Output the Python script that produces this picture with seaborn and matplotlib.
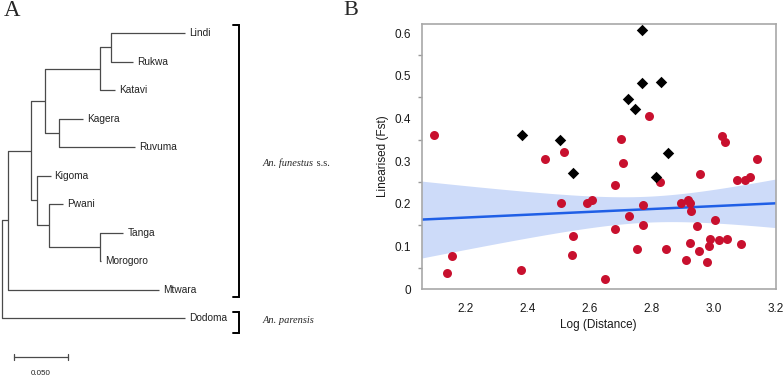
import numpy as np
import matplotlib
matplotlib.use("Agg")
import matplotlib.pyplot as plt
import seaborn as sns

# ---- panel A: neighbour-joining tree (branch lengths) ----
tree_nodes = ["root", "n1", "n2", "n3", "n5", "n6", "Lindi", "Rukwa", "Katavi",
              "n7", "Kagera", "Ruvuma", "n4", "Kigoma", "n8", "Pwani", "n9",
              "Tanga", "Morogoro", "Mtwara", "Dodoma"]
tree_parents = [None, "root", "n1", "n2", "n3", "n5", "n6", "n6", "n5",
                "n3", "n7", "n7", "n2", "n4", "n4", "n8", "n8",
                "n9", "n9", "n1", "root"]
branch_lengths = [0.0, 0.0056, 0.0213, 0.0129, 0.0519, 0.0102, 0.0685, 0.0203, 0.0139,
                  0.0139, 0.0222, 0.0704, 0.0055, 0.0130, 0.0120, 0.0130, 0.0473,
                  0.0213, 0.0009, 0.1407, 0.1704]
scale_bar = 0.050

# ---- panel B: isolation by distance ----
red_x = [2.096, 2.140, 2.155, 2.377, 2.455, 2.506, 2.518, 2.541, 2.544, 2.590,
         2.608, 2.649, 2.682, 2.682, 2.700, 2.706, 2.726, 2.753, 2.770, 2.773,
         2.790, 2.828, 2.845, 2.894, 2.909, 2.918, 2.922, 2.922, 2.927, 2.945,
         2.951, 2.955, 2.977, 2.986, 2.988, 3.003, 3.016, 3.028, 3.035, 3.043,
         3.074, 3.088, 3.101, 3.116, 3.141]
red_y = [0.362, 0.038, 0.077, 0.044, 0.305, 0.201, 0.321, 0.080, 0.125, 0.203,
         0.210, 0.023, 0.243, 0.141, 0.351, 0.296, 0.172, 0.093, 0.150, 0.197,
         0.406, 0.252, 0.093, 0.201, 0.068, 0.209, 0.201, 0.107, 0.184, 0.149,
         0.090, 0.271, 0.064, 0.102, 0.117, 0.162, 0.114, 0.360, 0.344, 0.117,
         0.257, 0.106, 0.255, 0.264, 0.304]
# pairs with An. parensis (Dodoma)
black_x = [2.380, 2.504, 2.544, 2.722, 2.745, 2.769, 2.768, 2.813, 2.829, 2.852]
black_y = [0.362, 0.350, 0.272, 0.446, 0.422, 0.609, 0.484, 0.264, 0.487, 0.320]

x_ticks = [2.2, 2.4, 2.6, 2.8, 3.0, 3.2]
y_ticks = [0, 0.1, 0.2, 0.3, 0.4, 0.5, 0.6]

sns.set_style("white")
plt.rcParams["font.family"] = ["Liberation Sans", "DejaVu Sans"]

W, H = 784, 378
fig = plt.figure(figsize=(W / 100, H / 100), dpi=100)

# ------------------------------------------------------------------ panel A
k = 1076.0           # pixels per branch-length unit
leaf_y0, leaf_dy = 33.0, 28.5
axA = fig.add_axes([0, 0, 340 / W, 1])
axA.set_xlim(-1.7 / k, (340 - 1.7) / k)
axA.set_ylim((H - leaf_y0) / leaf_dy, -leaf_y0 / leaf_dy)
axA.axis("off")

children = {n: [] for n in tree_nodes}
for n, p in zip(tree_nodes, tree_parents):
    if p is not None:
        children[p].append(n)
blen = dict(zip(tree_nodes, branch_lengths))

# leaf order = depth first traversal
leaves = []
def collect(n):
    if not children[n]:
        leaves.append(n)
    for c in children[n]:
        collect(c)
collect("root")

xpos, ypos = {}, {}
def place(n, x0):
    xpos[n] = x0 + blen[n]
    for c in children[n]:
        place(c, xpos[n])
for i, n in enumerate(leaves):
    ypos[n] = i
def place_y(n):
    for c in children[n]:
        place_y(c)
    if children[n]:
        ypos[n] = np.mean([ypos[c] for c in children[n]])
place_y("root")
place("root", 0.0)

tree_col = "#4a4a4a"
for n, p in zip(tree_nodes, tree_parents):
    if p is None:
        continue
    axA.plot([xpos[p], xpos[n]], [ypos[n], ypos[n]], color=tree_col, lw=0.9,
             solid_capstyle="butt")
for n in tree_nodes:
    if children[n]:
        ys = [ypos[c] for c in children[n]]
        axA.plot([xpos[n], xpos[n]], [min(ys), max(ys)], color=tree_col, lw=0.9)
for n in leaves:
    axA.text(xpos[n] + 4 / k, ypos[n], n, fontsize=7.3, va="center", ha="left",
             color="#222222")

# scale bar
sb_x0 = 12.3 / k
sb_y = (357 - leaf_y0) / leaf_dy
axA.plot([sb_x0, sb_x0 + scale_bar], [sb_y, sb_y], color=tree_col, lw=0.9)
for xx in [sb_x0, sb_x0 + scale_bar]:
    axA.plot([xx, xx], [sb_y - 0.1, sb_y + 0.1], color=tree_col, lw=0.9)
axA.text(sb_x0 + scale_bar / 2, (373 - leaf_y0) / leaf_dy, f"{scale_bar:.3f}",
         fontsize=5.8, ha="center", va="center", color="#222222")

# clade brackets
bx = (239 - 1.7) / k
stub = 6 / k
leaf_idx = {n: i for i, n in enumerate(leaves)}
for top, bot in [(leaf_idx["Lindi"] - 0.28, leaf_idx["Mtwara"] + 0.26),
                 (leaf_idx["Dodoma"] - 0.21, leaf_idx["Dodoma"] + 0.53)]:
    axA.plot([bx - stub, bx, bx, bx - stub], [top, top, bot, bot], color="black",
             lw=1.4, solid_joinstyle="miter")
tx = (263 - 1.7) / k
t1 = axA.text(tx, (163 - leaf_y0) / leaf_dy, "An. funestus", fontsize=7.5,
              style="italic", family="Liberation Serif", va="center", ha="left")
axA.annotate(" s.s.", xy=(1, 0.5), xycoords=t1, fontsize=7.5,
             family="Liberation Serif", va="center", ha="left")
axA.text(tx, (320 - leaf_y0) / leaf_dy, "An. parensis", fontsize=7.5,
         style="italic", family="Liberation Serif", va="center", ha="left")

fig.text(4 / W, 1 - 11 / H, "A", fontsize=16.5, family="Liberation Serif",
         va="center", ha="left")
fig.text(343 / W, 1 - 10.5 / H, "B", fontsize=16, family="Liberation Serif",
         va="center", ha="left")

# ------------------------------------------------------------------ panel B
axB = fig.add_axes([421.7 / W, (H - 289) / H, 354 / W, 265 / H])
axB.set_xlim(2.057, 3.2)
axB.set_ylim(0, 0.622)

line_col = "#1f5fe6"
sns.regplot(x=np.array(red_x), y=np.array(red_y), scatter=False, ci=None,
            truncate=False, color=line_col, line_kws={"lw": 1.8, "zorder": 2},
            ax=axB)

# analytic 95% confidence band of the fitted mean (t(0.975, n-2) ~ 2.017)
xr, yr = np.array(red_x), np.array(red_y)
n = len(xr)
b1, b0 = np.polyfit(xr, yr, 1)
resid = yr - (b0 + b1 * xr)
s = np.sqrt(np.sum(resid ** 2) / (n - 2))
sxx = np.sum((xr - xr.mean()) ** 2)
grid = np.linspace(*axB.get_xlim(), 200)
se = s * np.sqrt(1 / n + (grid - xr.mean()) ** 2 / sxx)
fit = b0 + b1 * grid
axB.fill_between(grid, fit - 2.017 * se, fit + 2.017 * se, color="#cddbf9",
                 lw=0, zorder=1)

sns.scatterplot(x=red_x, y=red_y, color="#c8102e", s=42, marker="o",
                linewidth=0, zorder=3, ax=axB)
sns.scatterplot(x=black_x, y=black_y, color="black", s=34, marker="D",
                linewidth=0, zorder=3, ax=axB)

axB.set_xticks(x_ticks)
axB.set_xticklabels([f"{v:.1f}" for v in x_ticks])
axB.set_yticks(y_ticks)
axB.set_yticklabels(["0"] + [f"{v:.1f}" for v in y_ticks[1:]])
axB.set_yticks(np.arange(0.05, 0.62, 0.1), minor=True)
axB.tick_params(axis="both", which="major", direction="out", length=5, width=1,
                color="#9a9a9a", labelsize=8.5, labelcolor="#1a1a1a")
axB.tick_params(axis="x", pad=5)
axB.tick_params(axis="y", pad=2.5)
axB.tick_params(axis="y", which="minor", direction="out", length=3, width=1,
                color="#9a9a9a", left=True)
for sp in axB.spines.values():
    sp.set_color("#a8a8a8")
    sp.set_linewidth(1.2)
axB.set_xlabel("Log (Distance)", fontsize=8.5, labelpad=3, color="#1a1a1a")
axB.set_ylabel("Linearised (Fst)", fontsize=8.5, labelpad=4, color="#1a1a1a")

fig.savefig("out.png", dpi=100)
